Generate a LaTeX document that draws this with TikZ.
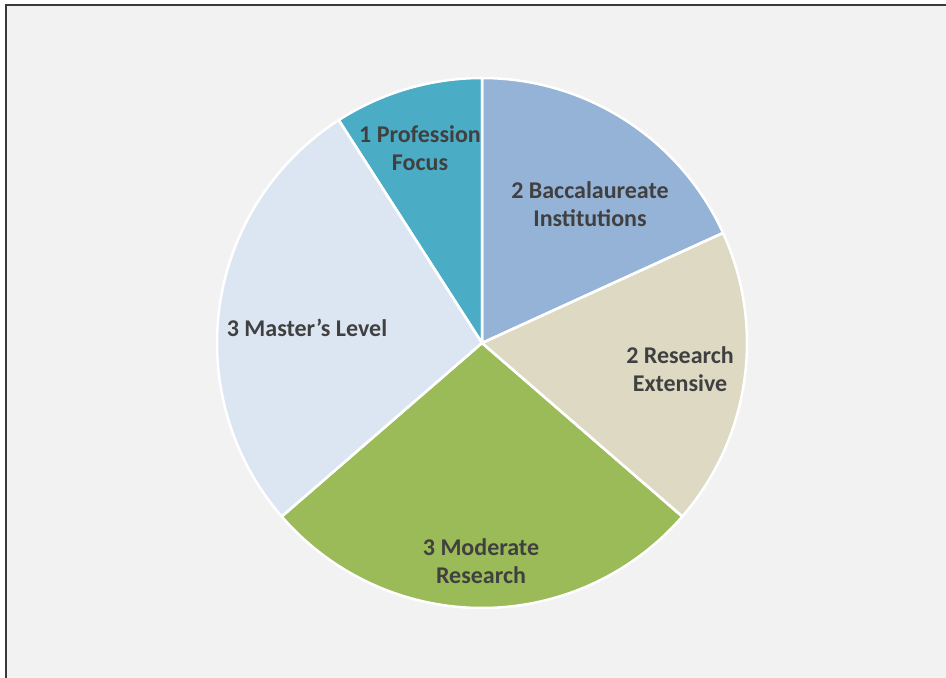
\documentclass[tikz,border=0pt]{standalone}
\usepackage{fontspec}
\setmainfont{Carlito}
\usepackage{xcolor}
\definecolor{bacc}{HTML}{95B3D7}
\definecolor{resext}{HTML}{DDD9C3}
\definecolor{modres}{HTML}{9BBB59}
\definecolor{master}{HTML}{DCE6F2}
\definecolor{prof}{HTML}{4BACC6}
\definecolor{txtgray}{HTML}{404040}
\definecolor{panel}{HTML}{F2F2F2}
\definecolor{framegray}{HTML}{3A3A3A}
\tikzset{
slice/.style={draw=white, line width=2.5pt, line join=round},
slicetext/.style={align=center, text=txtgray, inner sep=0pt,
  font=\fontsize{24}{28}\selectfont\bfseries},
}

\begin{document}
\begin{tikzpicture}[x=1pt,y=1pt]
\useasboundingbox (0,0) rectangle (946,678);
\clip (0,0) rectangle (946,678);
% the panel
\fill[white] (0,0) rectangle (946,678);
\draw[framegray, fill=panel, line width=2pt] (5.5,-20) rectangle (970,673);
\coordinate (c) at (482,335);
% the slices
\foreach \a/\b/\col in {90/24.545/bacc, 24.545/-40.909/resext,
  -40.909/-139.091/modres, -139.091/-237.273/master, -237.273/-270/prof}
{
  \fill[\col] (c) -- ++(\a:265) arc[start angle=\a, end angle=\b, radius=265] -- cycle;
}
\foreach \a/\b in {90/24.545, 24.545/-40.909, -40.909/-139.091,
  -139.091/-237.273, -237.273/-270}
{
  \draw[slice] (c) -- ++(\a:265) arc[start angle=\a, end angle=\b, radius=265] -- cycle;
}
% the labels
\node[slicetext] (profession) at (420,530) {1 Profession\\Focus};
\node[slicetext] (baccalaureate) at (590,474) {2 Baccalaureate\\Institutions};
\node[slicetext] (extensive) at (680,309) {2 Research\\Extensive};
\node[slicetext] (moderate) at (481,117) {3 Moderate\\Research};
\node[slicetext] (masters) at (307,350) {3 Master’s Level};
\end{tikzpicture}
\end{document}
